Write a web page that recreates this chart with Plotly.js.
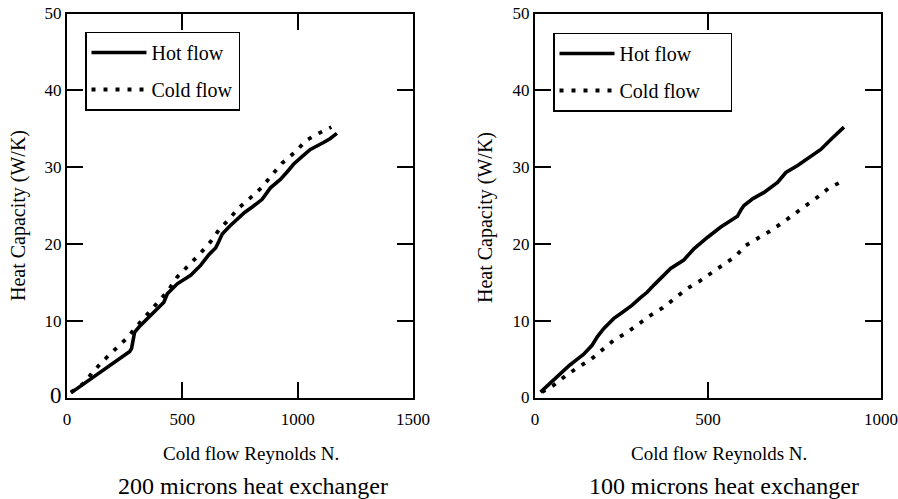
<!DOCTYPE html>
<html>
<head>
<meta charset="utf-8">
<script src="https://cdn.plot.ly/plotly-3.0.1.min.js"></script>
<style>html,body{margin:0;padding:0;background:#fff;}#chart{width:898px;height:499px;}</style>
</head>
<body>
<div id="chart"></div>
<script>
// 200 microns heat exchanger
const re200Hot = [17,50,82,115,147,180,205,230,255,272,280,287,293,313,356,400,420,435,478,536,579,615,645,658,673,705,738,770,803,846,882,925,955,983,1020,1055,1112,1140,1170];
const hc200Hot = [0.6,1.3,2.0,2.7,3.3,4.1,4.6,5.2,5.7,6.0,6.4,7.6,8.5,9.2,10.5,11.8,12.4,13.5,14.8,15.9,17.2,18.6,19.5,20.3,21.3,22.3,23.2,24.1,24.8,25.8,27.3,28.4,29.4,30.4,31.4,32.3,33.2,33.7,34.4];
const re200Cold = [17,50,82,111,161,207,259,303,349,399,438,478,529,576,623,658,702,745,795,846,889,932,990,1038,1091,1146];
const hc200Cold = [0.7,1.3,2.1,3.3,4.9,6.2,7.7,9.3,10.9,12.5,13.9,15.7,17.2,18.7,20.3,21.8,23.2,24.7,26.0,27.4,29.0,30.5,32.0,33.5,34.4,35.2];

// 100 microns heat exchanger
const re100Hot = [16,33,45,66,83,100,117,140,165,180,199,228,250,280,305,324,345,373,392,430,460,500,537,575,585,596,604,630,662,701,715,725,759,790,826,855,893];
const hc100Hot = [0.7,1.4,2.0,2.8,3.5,4.2,4.8,5.6,6.8,7.9,9.0,10.3,11.0,12.0,13.0,13.7,14.7,15.9,16.8,17.9,19.4,20.9,22.2,23.3,23.6,24.5,25.0,25.9,26.7,28.0,28.7,29.3,30.2,31.2,32.3,33.6,35.2];
const re100Cold = [20,54,88,123,160,194,229,264,300,334,370,404,440,474,508,545,580,609,641,677,710,747,781,817,850,886];
const hc100Cold = [0.7,1.6,2.8,3.9,4.9,6.2,7.5,8.4,9.6,10.7,11.7,12.9,14.2,15.1,16.2,17.3,18.4,19.8,20.6,21.6,22.6,23.8,24.8,26.1,27.3,28.1];

const seriesNames = ['Hot flow', 'Cold flow'];
const yTickVals = [0,10,20,30,40,50];
const xTickVals200 = [0,500,1000,1500];
const xTickVals100 = [0,500,1000];
const captions = ['200 microns heat exchanger', '100 microns heat exchanger'];
const xTitle = 'Cold flow Reynolds N.';
const yTitle = 'Heat Capacity (W/K)';

const FONT = 'Liberation Serif, Times New Roman, serif';
const hotLine = {color:'#000', width:3.6};
const coldLine = {color:'#000', width:3.8, dash:'4px,8px'};
const PAD = '&nbsp;&nbsp;&nbsp;&nbsp;&nbsp;';

const traces = [
  {x:re200Hot, y:hc200Hot, name:seriesNames[0], mode:'lines', line:hotLine, xaxis:'x', yaxis:'y', legend:'legend', legendgroup:'a'},
  {x:re200Cold, y:hc200Cold, name:seriesNames[1], mode:'lines', line:coldLine, xaxis:'x', yaxis:'y', legend:'legend', legendgroup:'b'},
  {x:re100Hot, y:hc100Hot, name:seriesNames[0], mode:'lines', line:hotLine, xaxis:'x2', yaxis:'y2', legend:'legend2', legendgroup:'c'},
  {x:re100Cold, y:hc100Cold, name:seriesNames[1] + PAD, mode:'lines', line:coldLine, xaxis:'x2', yaxis:'y2', legend:'legend2', legendgroup:'d'}
];

const W = 898, H = 499;
const yDom = [1 - 397.5/H, 1 - 13.5/H];
function axisCommon(){
  return {
    showline:true, linewidth:2, linecolor:'#000', mirror:'ticks',
    ticks:'inside', ticklen:16, tickwidth:2, tickcolor:'#000',
    showgrid:false, zeroline:false, fixedrange:true,
    tickfont:{family:FONT, size:17, color:'#000'}
  };
}
const xa1 = Object.assign(axisCommon(), {domain:[67/W, 413/W], range:[0,1500], tickvals:xTickVals200, anchor:'y', ticklabelstandoff:5});
const xa2 = Object.assign(axisCommon(), {domain:[535/W, 881/W], range:[0,1000], tickvals:xTickVals100, anchor:'y2', ticklabelstandoff:5});
const ya1 = Object.assign(axisCommon(), {domain:yDom, range:[0,50], tickvals:yTickVals,
  ticktext:yTickVals.map(v => v === 0 ? '<span style="font-size:23px">0</span>' : String(v)), anchor:'x'});
const ya2 = Object.assign(axisCommon(), {domain:yDom, range:[0,50], tickvals:yTickVals, anchor:'x2'});

function legendCfg(xpx, ypx){
  return {x:xpx/W, y:1 - ypx/H, xanchor:'left', yanchor:'top',
    bgcolor:'#fff', bordercolor:'#000', borderwidth:1.5,
    font:{family:FONT, size:20, color:'#000'},
    traceorder:'grouped', tracegroupgap:8, itemwidth:55, itemclick:false, itemdoubleclick:false};
}

function ann(text, xpx, ypx, size, angle){
  return {text:text, x:xpx/W, y:1 - ypx/H, xref:'paper', yref:'paper', xanchor:'center', yanchor:'middle',
    showarrow:false, textangle:angle || 0, font:{family:FONT, size:size, color:'#000'}};
}
const annotations = [
  ann(xTitle, 251, 453, 19),
  ann(xTitle, 719, 453, 19),
  ann(captions[0], 253, 486, 24),
  ann(captions[1], 724, 486, 24),
  ann(yTitle, 18, 216, 20, -90),
  ann(yTitle, 485, 217, 20, -90)
];

const layout = {
  width:W, height:H, margin:{l:0, r:0, t:0, b:0},
  paper_bgcolor:'#fff', plot_bgcolor:'#fff',
  font:{family:FONT, color:'#000'},
  showlegend:true,
  xaxis:xa1, yaxis:ya1, xaxis2:xa2, yaxis2:ya2,
  legend:legendCfg(85, 31.5), legend2:legendCfg(553, 32.5),
  annotations:annotations
};

Plotly.newPlot('chart', traces, layout, {displayModeBar:false, staticPlot:true});
</script>
</body>
</html>
